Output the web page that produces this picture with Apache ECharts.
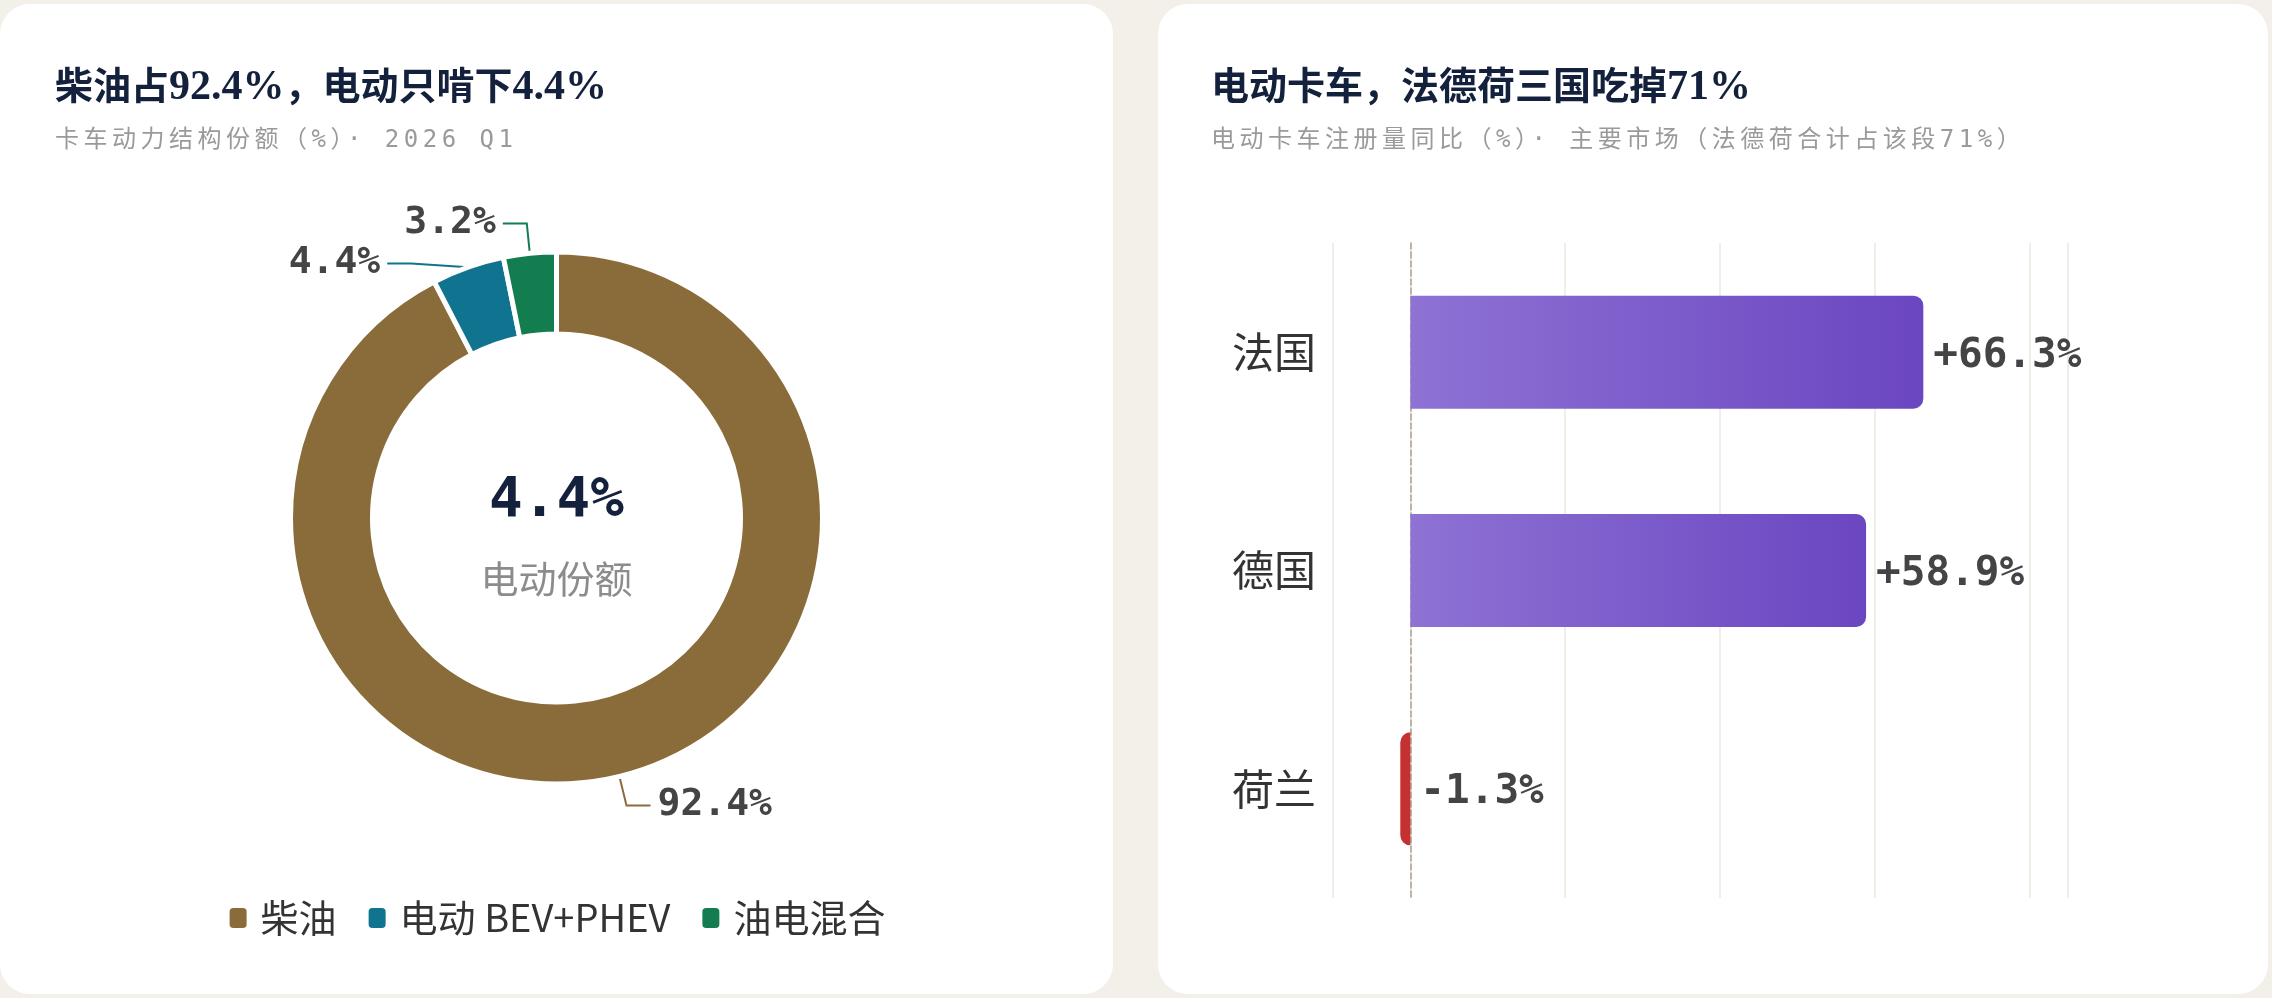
<!DOCTYPE html>
<html>
<head>
<meta charset="UTF-8">
<title>卡车动力结构与电动卡车注册量</title>
<script src="https://cdn.jsdelivr.net/npm/echarts@6/dist/echarts.min.js"></script>
<style>
    body {
        margin: 0;
        width: 2272px;
        height: 998px;
        overflow: hidden;
        background: #f3f0e9;
    }
    .card {
        position: absolute;
        top: 4px;
        height: 990px;
        background: #ffffff;
        border-radius: 30px;
        overflow: hidden;
    }
    #card-left { left: 0; width: 1113px; }
    #card-right { left: 1158px; width: 1110px; }
    .chart {
        position: absolute;
        left: 0;
        top: 0;
        width: 100%;
        height: 100%;
    }
    .title {
        position: absolute;
        top: 60px;
        font-family: "Liberation Serif", "Noto Sans CJK SC", serif;
        font-weight: bold;
        font-size: 38px;
        line-height: 42px;
        color: #14213d;
        z-index: 2;
        white-space: nowrap;
    }
    .title .num { font-size: 42px; }
    .subtitle {
        position: absolute;
        top: 121px;
        font-family: "DejaVu Sans Mono", "Noto Sans CJK SC", monospace;
        font-size: 24px;
        line-height: 28px;
        letter-spacing: 4.5px;
        color: #9a9a9a;
        z-index: 2;
        white-space: nowrap;
    }
</style>
</head>
<body>
    <div class="card" id="card-left">
        <div class="chart" id="pie-chart"></div>
        <div class="title" style="left:55px">柴油占<span class="num">92.4%</span>，电动只啃下<span class="num">4.4%</span></div>
        <div class="subtitle" style="left:55px">卡车动力结构份额（%）· 2026 Q1</div>
    </div>
    <div class="card" id="card-right">
        <div class="chart" id="bar-chart"></div>
        <div class="title" style="left:53px">电动卡车，法德荷三国吃掉<span class="num">71%</span></div>
        <div class="subtitle" style="left:53px">电动卡车注册量同比（%）· 主要市场（法德荷合计占该段71%）</div>
    </div>

<script>
// 动力结构份额 (%)
var powerNames = ['柴油', '电动 BEV+PHEV', '油电混合'];
var powerShares = [92.4, 4.4, 3.2];

// 电动卡车注册量同比 (%)
var markets = ['法国', '德国', '荷兰'];
var yoyGrowth = [66.3, 58.9, -1.3];

var monoFont = '"DejaVu Sans Mono", monospace';
var cjkFont = '"Noto Sans CJK SC", sans-serif';

// 左：环形图
var pieChart = echarts.init(document.getElementById('pie-chart'));
var pieData = powerNames.map(function(name, i) {
    return { name: name, value: powerShares[i] };
});

pieChart.setOption({
    animation: false,
    color: ['#8a6c3a', '#107490', '#147d50'],
    title: [
        {
            text: powerShares[1].toFixed(1) + '%',
            left: 'center',
            top: 464,
            textStyle: { fontFamily: monoFont, fontWeight: 'bold', fontSize: 56, color: '#14213d' }
        },
        {
            text: '电动份额',
            left: 'center',
            top: 551,
            textStyle: { fontFamily: cjkFont, fontWeight: 'normal', fontSize: 38, color: '#8c8c8c' }
        }
    ],
    legend: {
        left: 'center',
        top: 890,
        icon: 'roundRect',
        itemWidth: 19,
        itemHeight: 22,
        itemGap: 30,
        textStyle: { fontFamily: cjkFont, fontSize: 38, color: '#333', padding: [0, 0, 0, 8] }
    },
    series: [
        {
            type: 'pie',
            radius: [184, 266],
            center: ['50%', 514],
            startAngle: 90,
            clockwise: true,
            itemStyle: { borderColor: '#fff', borderWidth: 5 },
            label: {
                formatter: function(p) { return p.value.toFixed(1) + '%'; },
                fontFamily: monoFont,
                fontWeight: 'bold',
                fontSize: 38,
                color: '#444',
                distanceToLabelLine: 7
            },
            labelLine: { length: 30, length2: 24, lineStyle: { width: 2 } },
            emphasis: { disabled: true },
            data: pieData
        }
    ]
});

// 右：横向柱状图
var barChart = echarts.init(document.getElementById('bar-chart'));
var barGradient = new echarts.graphic.LinearGradient(0, 0, 1, 0, [
    { offset: 0, color: '#8e72d4' },
    { offset: 1, color: '#6b46c1' }
]);
var barData = yoyGrowth.map(function(v) {
    if (v >= 0) {
        return { value: v, itemStyle: { color: barGradient, borderRadius: [0, 10, 10, 0] } };
    }
    return { value: v, itemStyle: { color: '#c53030', borderRadius: [10, 0, 0, 10] } };
});

barChart.setOption({
    animation: false,
    grid: { left: 175, right: 200, top: 239, height: 655 },
    xAxis: {
        type: 'value',
        min: -10,
        max: 85,
        axisLabel: { show: false },
        axisLine: { show: false },
        axisTick: { show: false },
        splitLine: { lineStyle: { color: '#ece8e0', width: 1.5 } }
    },
    yAxis: {
        type: 'category',
        inverse: true,
        data: markets,
        axisTick: { show: false },
        axisLine: { lineStyle: { color: '#aaa38f', type: 'dashed', width: 1.5 } },
        axisLabel: { fontFamily: cjkFont, fontSize: 42, color: '#333', margin: 17 }
    },
    series: [
        {
            type: 'bar',
            barWidth: 113,
            data: barData,
            label: {
                show: true,
                position: 'right',
                distance: 10,
                offset: [0, 4],
                formatter: function(p) {
                    var v = p.value;
                    return (v > 0 ? '+' : '') + v.toFixed(1) + '%';
                },
                fontFamily: monoFont,
                fontWeight: 'bold',
                fontSize: 41,
                color: '#444'
            },
            emphasis: { disabled: true }
        }
    ]
});
</script>
</body>
</html>
